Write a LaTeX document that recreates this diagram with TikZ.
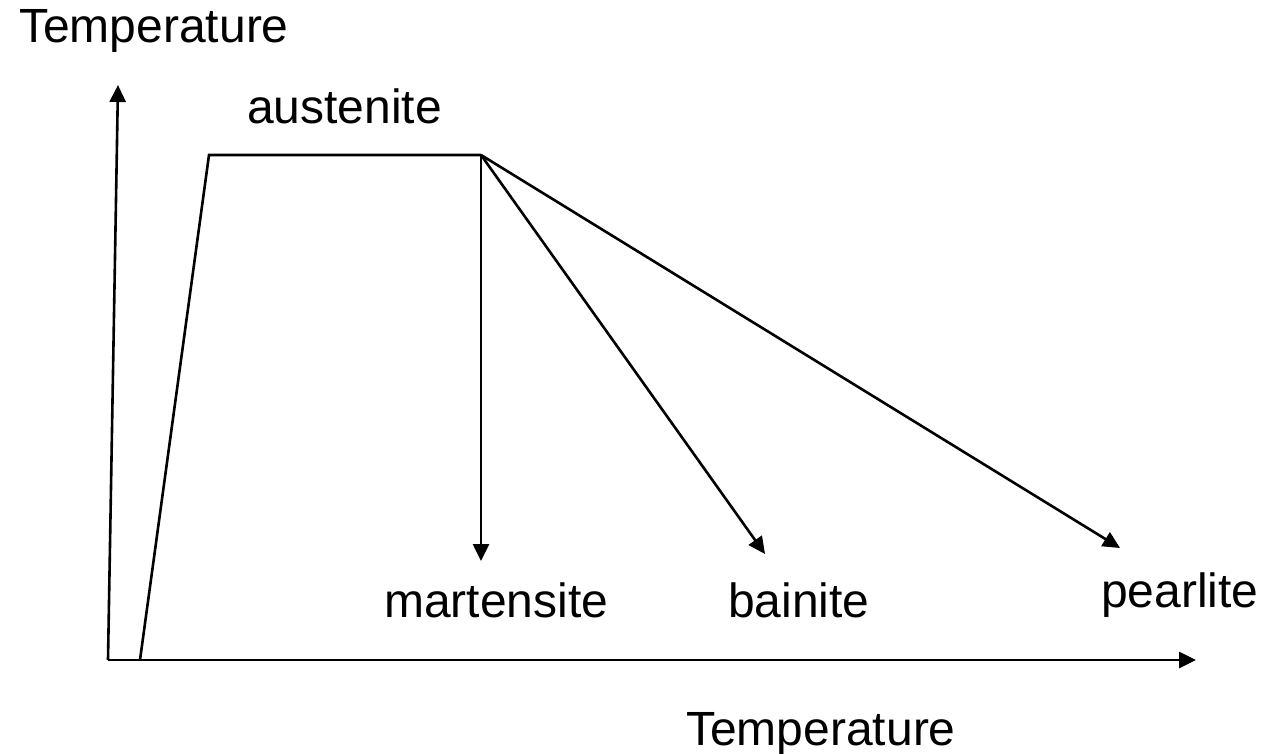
\documentclass[tikz,border=0pt]{standalone}
\usepackage{fontspec}
\setmainfont{Liberation Sans}
\usetikzlibrary{arrows.meta}

\begin{document}
\begin{tikzpicture}[
    x=1pt, y=-1pt,
    lbl/.style  = {font=\fontsize{48}{58}\selectfont, anchor=base west, inner sep=0pt},
    line/.style = {line width=2.6pt, line join=miter},
    arr/.style  = {line, -{Triangle[length=17pt, width=16pt]}},
  ]
    \useasboundingbox (0,0) rectangle (1263,754);

    % ── axes ──
    \coordinate (o)  at (108,660);
    \coordinate (yt) at (118,85);
    \coordinate (xt) at (1196,660);
    \draw[arr] (o) -- (yt);
    \draw[arr] (o) -- (xt);

    % ── heating and holding ──
    \coordinate (h0) at (140,660);
    \coordinate (h1) at (209,155);
    \coordinate (h2) at (481,155);
    \draw[line] (h0) -- (h1) -- (h2);

    % ── cooling paths ──
    \coordinate (mt) at (481,561);
    \coordinate (bt) at (765,554);
    \coordinate (pt) at (1120,548);
    \draw[arr] (h2) -- (mt);
    \draw[arr] (h2) -- (bt);
    \draw[arr] (h2) -- (pt);

    % ── labels ──
    \node[lbl] (ylab) at (19,43)   {Temperature};
    \node[lbl] (xlab) at (686,745) {Temperature};
    \node[lbl] (aus)  at (247,124) {austenite};
    \node[lbl] (mar)  at (384,617) {martensite};
    \node[lbl] (bai)  at (728,617) {bainite};
    \node[lbl] (pea)  at (1101,607) {pearlite};
\end{tikzpicture}
\end{document}
